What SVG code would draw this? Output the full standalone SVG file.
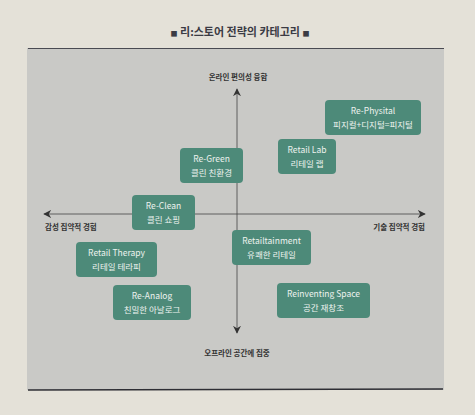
<svg xmlns="http://www.w3.org/2000/svg" width="475" height="415" viewBox="0 0 475 415">
<defs>
<style>
.node rect{fill:#4d8a79;}
.node text{fill:#eef3ef;font-family:"Noto Sans CJK KR","Noto Sans",sans-serif;font-size:8.5px;text-anchor:middle;}
.lbl{fill:#333;font-family:"Noto Sans CJK KR",sans-serif;font-size:7.5px;font-weight:bold;}
.axis{stroke:#444;stroke-width:0.8;fill:none;}
</style>
<marker id="ah" viewBox="0 0 10 10" refX="9" refY="5" markerWidth="8" markerHeight="8" orient="auto-start-reverse" markerUnits="userSpaceOnUse">
<path d="M0,0 L10,5 L0,10 L3,5 z" fill="#333"/>
</marker>
</defs>
<rect x="0" y="0" width="475" height="415" fill="#e4e1d8"/>
<rect x="27" y="48" width="417" height="342" fill="#c9c9c6"/>
<line x1="28" y1="48.5" x2="444" y2="48.5" stroke="#4a4a52" stroke-width="1.2"/>
<line x1="28" y1="390" x2="443" y2="389" stroke="#2e2e34" stroke-width="1.4"/>
<text x="240" y="36" text-anchor="middle" font-family="Noto Sans CJK KR,sans-serif" font-size="11" font-weight="bold" fill="#3b3b44"><tspan font-size="7">■</tspan> 리:스토어 전략의 카테고리 <tspan font-size="7">■</tspan></text>

<g id="connectors">
<line class="axis" x1="237" y1="333" x2="237" y2="89" marker-start="url(#ah)" marker-end="url(#ah)"/>
<line class="axis" x1="44" y1="214" x2="425" y2="214" marker-start="url(#ah)" marker-end="url(#ah)"/>
</g>

<text class="lbl" x="238" y="80" text-anchor="middle">온라인 편의성 융합</text>
<text class="lbl" x="237" y="356" text-anchor="middle">오프라인 공간에 집중</text>
<text class="lbl" x="45" y="230">감성 집약적 경험</text>
<text class="lbl" x="425" y="230" text-anchor="end">기술 집약적 경험</text>

<g id="re-physital" class="node"><rect x="325" y="100" width="96" height="35" rx="4"/><text x="373" y="114">Re-Physital</text><text x="373" y="128">피지컬+디지털=피지털</text></g>
<g id="retail-lab" class="node"><rect x="278" y="139" width="58" height="35" rx="4"/><text x="307" y="153">Retail Lab</text><text x="307" y="167">리테일 랩</text></g>
<g id="re-green" class="node"><rect x="180" y="148" width="63" height="35" rx="4"/><text x="211.5" y="162">Re-Green</text><text x="211.5" y="176">클린 친환경</text></g>
<g id="re-clean" class="node"><rect x="132" y="195" width="63" height="35" rx="4"/><text x="163.5" y="209">Re-Clean</text><text x="163.5" y="223">클린 쇼핑</text></g>
<g id="retail-therapy" class="node"><rect x="76" y="242" width="81" height="35" rx="4"/><text x="116.5" y="256">Retail Therapy</text><text x="116.5" y="270">리테일 테라피</text></g>
<g id="retailtainment" class="node"><rect x="232" y="230" width="79" height="35" rx="4"/><text x="271.5" y="244">Retailtainment</text><text x="271.5" y="258">유쾌한 리테일</text></g>
<g id="re-analog" class="node"><rect x="113" y="285" width="78" height="35" rx="4"/><text x="152" y="299">Re-Analog</text><text x="152" y="313">친밀한 아날로그</text></g>
<g id="reinventing-space" class="node"><rect x="277" y="283" width="93" height="35" rx="4"/><text x="323.5" y="297">Reinventing Space</text><text x="323.5" y="311">공간 재창조</text></g>
</svg>
